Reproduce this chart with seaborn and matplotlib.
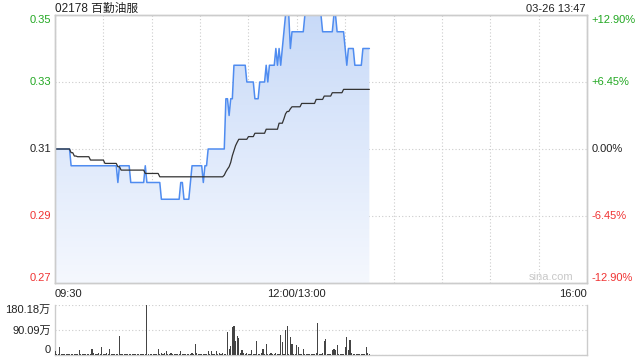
import numpy as np
import pandas as pd
import matplotlib
matplotlib.use("Agg")
import matplotlib.pyplot as plt
import seaborn as sns
from matplotlib.colors import LinearSegmentedColormap

# ---------------- data ----------------
title_text = "02178 百勤油服"
stamp_text = "03-26 13:47"
prev_close = 0.31
price_ticks = [0.27, 0.29, 0.31, 0.33, 0.35]
price_labels = ["0.27", "0.29", "0.31", "0.33", "0.35"]
pct_labels = ["-12.90%", "-6.45%", "0.00%", "+6.45%", "+12.90%"]
time_ticks = [0, 150, 330]
time_labels = ["09:30", "12:00/13:00", "16:00"]
vol_ticks = [0, 90.09, 180.18]
vol_labels = ["0", "90.09万", "180.18万"]

price = [
    0.31, 0.31, 0.31, 0.31, 0.31, 0.31, 0.31, 0.31, 0.31, 0.31,
    0.305, 0.305, 0.305, 0.305, 0.305, 0.305, 0.305, 0.305, 0.305, 0.305,
    0.305, 0.305, 0.305, 0.305, 0.305, 0.305, 0.305, 0.305, 0.305, 0.305,
    0.305, 0.305, 0.305, 0.305, 0.305, 0.305, 0.305, 0.305, 0.305, 0.30,
    0.305, 0.305, 0.305, 0.305, 0.305, 0.305, 0.305, 0.30, 0.30, 0.30,
    0.30, 0.30, 0.30, 0.30, 0.30, 0.30, 0.305, 0.30, 0.30, 0.30,
    0.30, 0.30, 0.30, 0.30, 0.30, 0.30, 0.295, 0.295, 0.295, 0.295,
    0.295, 0.295, 0.295, 0.295, 0.295, 0.295, 0.295, 0.295, 0.30, 0.30,
    0.295, 0.295, 0.295, 0.295, 0.30, 0.305, 0.305, 0.305, 0.305, 0.305,
    0.305, 0.305, 0.30, 0.305, 0.305, 0.31, 0.31, 0.31, 0.31, 0.31,
    0.31, 0.31, 0.31, 0.31, 0.31, 0.31, 0.325, 0.325, 0.32, 0.325,
    0.325, 0.335, 0.335, 0.335, 0.335, 0.335, 0.335, 0.335, 0.335, 0.33,
    0.33, 0.33, 0.33, 0.33, 0.325, 0.325, 0.325, 0.33, 0.33, 0.33,
    0.33, 0.335, 0.33, 0.335, 0.335, 0.335, 0.335, 0.34, 0.335, 0.34,
    0.335, 0.34, 0.345, 0.35, 0.35, 0.35, 0.34, 0.345, 0.345, 0.345,
    0.345, 0.345, 0.345, 0.345, 0.345, 0.35, 0.35, 0.35, 0.35, 0.35,
    0.35, 0.35, 0.35, 0.35, 0.35, 0.35, 0.345, 0.345, 0.345, 0.345,
    0.345, 0.345, 0.345, 0.35, 0.35, 0.345, 0.345, 0.345, 0.345, 0.345,
    0.34, 0.335, 0.34, 0.34, 0.34, 0.34, 0.335, 0.335, 0.335, 0.335,
    0.335, 0.34, 0.34, 0.34, 0.34, 0.34,
]

avg_price = [
    0.310, 0.310, 0.310, 0.310, 0.310, 0.310, 0.310, 0.310, 0.310, 0.310,
    0.3089, 0.3089, 0.3079, 0.3079, 0.3077, 0.3077, 0.3077, 0.3077, 0.3077, 0.3077,
    0.3077, 0.3077, 0.3067, 0.3067, 0.3067, 0.3067, 0.3067, 0.3067, 0.3067, 0.3067,
    0.3067, 0.3057, 0.3057, 0.3057, 0.3057, 0.3057, 0.3057, 0.3057, 0.3057, 0.3047,
    0.3047, 0.3037, 0.3037, 0.3037, 0.3037, 0.3037, 0.3037, 0.3037, 0.3037, 0.3037,
    0.3037, 0.3037, 0.3037, 0.3037, 0.3037, 0.3037, 0.3027, 0.3027, 0.3027, 0.3027,
    0.3027, 0.3027, 0.3027, 0.3027, 0.3027, 0.3017, 0.3017, 0.3017, 0.3017, 0.3017,
    0.3017, 0.3017, 0.3017, 0.3017, 0.3017, 0.3017, 0.3017, 0.3017, 0.3017, 0.3017,
    0.3017, 0.3017, 0.3017, 0.3017, 0.3017, 0.3017, 0.3017, 0.3017, 0.3017, 0.3017,
    0.3017, 0.3017, 0.3017, 0.3017, 0.3017, 0.3017, 0.3017, 0.3017, 0.3017, 0.3017,
    0.3017, 0.3017, 0.3017, 0.3017, 0.3017, 0.3022, 0.3032, 0.3040, 0.3047, 0.3060,
    0.3080, 0.3095, 0.3110, 0.3120, 0.3129, 0.3129, 0.3129, 0.3129, 0.3129, 0.3129,
    0.3137, 0.3137, 0.3137, 0.3137, 0.3147, 0.3147, 0.3147, 0.3147, 0.3147, 0.3147,
    0.3147, 0.3159, 0.3159, 0.3159, 0.3159, 0.3159, 0.3159, 0.3159, 0.3159, 0.3177,
    0.3177, 0.3177, 0.3190, 0.3205, 0.3212, 0.3212, 0.3220, 0.3226, 0.3226, 0.3226,
    0.3226, 0.3226, 0.3226, 0.3236, 0.3236, 0.3236, 0.3236, 0.3236, 0.3236, 0.3236,
    0.3236, 0.3236, 0.3248, 0.3248, 0.3248, 0.3248, 0.3248, 0.3258, 0.3258, 0.3258,
    0.3258, 0.3258, 0.3268, 0.3268, 0.3268, 0.3268, 0.3268, 0.3268, 0.3268, 0.3278,
    0.3278, 0.3278, 0.3278, 0.3278, 0.3278, 0.3278, 0.3278, 0.3278, 0.3278, 0.3278,
    0.3278, 0.3278, 0.3278, 0.3278, 0.3278, 0.3278,
]

volume = [
    14, 3, 2, 29, 3, 2, 4, 2, 3, 5,
    2, 3, 4, 3, 2, 18, 3, 2, 4, 3,
    2, 5, 3, 22, 9, 3, 4, 6, 3, 29,
    5, 3, 8, 4, 22, 3, 2, 4, 3, 5,
    69, 4, 3, 2, 5, 3, 2, 4, 3, 2,
    4, 3, 2, 5, 3, 2, 4, 180.18, 5, 3,
    2, 4, 3, 5, 22, 4, 9, 3, 6, 14,
    4, 3, 9, 5, 3, 4, 2, 3, 14, 5,
    3, 4, 2, 5, 3, 6, 4, 40, 8, 5,
    3, 4, 2, 5, 3, 14, 4, 14, 3, 5,
    14, 4, 6, 3, 8, 4, 5, 83, 22, 32,
    100, 104, 50, 68, 61, 6, 18, 8, 4, 6,
    3, 5, 18, 4, 3, 50, 5, 3, 6, 22,
    4, 40, 5, 3, 9, 4, 5, 7, 3, 4,
    72, 47, 3, 90, 104, 5, 65, 40, 4, 3,
    36, 29, 4, 3, 22, 3, 2, 4, 3, 2,
    5, 3, 9, 117, 4, 3, 6, 50, 58, 5,
    3, 4, 18, 22, 18, 36, 4, 2, 5, 3,
    29, 65, 18, 54, 8, 4, 3, 5, 3, 4,
    2, 4, 3, 29, 8, 3,
]

minutes = list(range(len(price)))

# ---------------- style ----------------
sns.set_theme(style="white")
plt.rcParams["font.family"] = ["Liberation Sans", "Noto Sans CJK SC", "DejaVu Sans"]

UP = "#22a822"
DOWN = "#f03333"
TXT = "#222222"
FRAME = "#cccccc"
label_colors = [DOWN, DOWN, TXT, UP, UP]

df = pd.DataFrame({"minute": minutes, "price": price, "avg": avg_price, "volume": volume})

fig = plt.figure(figsize=(6.4, 3.6), dpi=100)
ax = fig.add_axes([55 / 640, 1 - 283 / 360, 532 / 640, 268 / 360])
axv = fig.add_axes([55 / 640, 1 - 355 / 360, 532 / 640, 50 / 360])

# gradient fill under price line
poly = ax.fill_between(df["minute"], df["price"], price_ticks[0], color="none", lw=0)
cmap = LinearSegmentedColormap.from_list("g", ["#f5f8fe", "#c8daf8"])
grad = np.linspace(0, 1, 256).reshape(-1, 1)
im = ax.imshow(grad, cmap=cmap, aspect="auto", origin="lower",
               extent=[0, minutes[-1], price_ticks[0], price_ticks[-1]], zorder=1)
im.set_clip_path(poly.get_paths()[0], transform=ax.transData)

sns.lineplot(data=df, x="minute", y="price", ax=ax, color="#4f8cf0", lw=1.1, zorder=3)
sns.lineplot(data=df, x="minute", y="avg", ax=ax, color="#333333", lw=0.9, zorder=4)

ax.set_xlim(0, 330)
ax.set_ylim(price_ticks[0], price_ticks[-1])
ax.set_xlabel("")
ax.set_ylabel("")

ax.set_xticks(time_ticks)
ax.set_xticklabels(time_labels)
ax.set_xticks(list(range(30, 330, 30)), minor=True)
for lab, ha in zip(ax.get_xticklabels(), ["left", "center", "right"]):
    lab.set_ha(ha)
ax.tick_params(axis="x", which="both", length=0, pad=4, labelsize=8, labelcolor=TXT)

ax.set_yticks(price_ticks)
ax.set_yticklabels(price_labels)
ax.tick_params(axis="y", length=0, pad=3, labelsize=8)
for i, lab in enumerate(ax.get_yticklabels()):
    lab.set_color(label_colors[i])
    lab.set_va("bottom" if i == 0 else ("top" if i == len(price_ticks) - 1 else "center"))

ax.grid(True, which="both", axis="x", color=FRAME, ls=(0, (1, 2)), lw=0.8)
ax.grid(True, which="major", axis="y", color=FRAME, ls=(0, (1, 2)), lw=0.8)
for s in ax.spines.values():
    s.set_color(FRAME)
    s.set_linewidth(1)

axr = ax.twinx()
axr.set_ylim(price_ticks[0], price_ticks[-1])
axr.set_yticks(price_ticks)
axr.set_yticklabels(pct_labels)
axr.tick_params(axis="y", length=0, pad=3, labelsize=8)
for i, lab in enumerate(axr.get_yticklabels()):
    lab.set_color(label_colors[i])
    lab.set_va("bottom" if i == 0 else ("top" if i == len(price_ticks) - 1 else "center"))
axr.grid(False)
for s in axr.spines.values():
    s.set_color(FRAME)
    s.set_linewidth(1)

ax.text(0.974, 0.004, "sina.com", transform=ax.transAxes, ha="right", va="bottom",
        color="#c8c8c8", fontsize=8, zorder=5)

# volume panel
axv.bar(df["minute"], df["volume"], width=0.75, color="#444444", linewidth=0, zorder=3)
axv.set_xlim(0, 330)
axv.set_ylim(vol_ticks[0], vol_ticks[-1])
axv.set_xticks([])
axv.set_yticks(vol_ticks)
axv.set_yticklabels(vol_labels)
axv.tick_params(axis="y", length=0, pad=3, labelsize=8, labelcolor=TXT)
vl = axv.get_yticklabels()
vl[0].set_va("bottom")
vl[-1].set_va("top")
axv.grid(True, axis="y", color=FRAME, ls=(0, (1, 2)), lw=0.8)
for name, s in axv.spines.items():
    s.set_color(FRAME)
    s.set_linewidth(1)
axv.spines["top"].set_visible(False)

fig.text(55 / 640, 1 - 9 / 360, title_text, ha="left", va="center", fontsize=8.5, color=TXT)
fig.text(585 / 640, 1 - 9 / 360, stamp_text, ha="right", va="center", fontsize=8, color=TXT)

fig.savefig("out.png", dpi=100)
